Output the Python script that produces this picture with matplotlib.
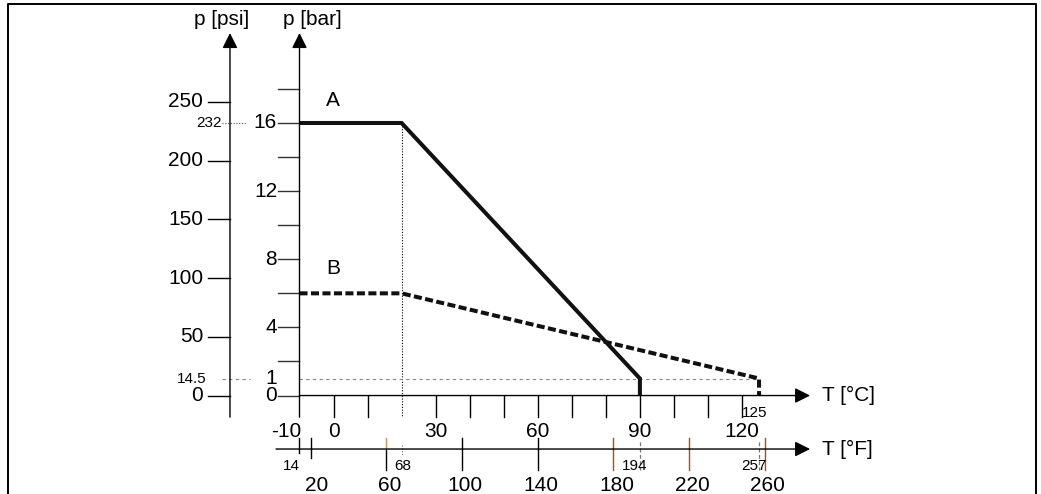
#!/usr/bin/env python3
"""
Pressure-temperature rating, curves A and B
p [bar] / p [psi] against T [°C] / T [°F]
"""

import matplotlib.pyplot as plt

plt.rcParams['font.family'] = ['Liberation Sans', 'DejaVu Sans']

# Curve data (°C, bar)
curve_a_t = [-10, 20, 90, 90]
curve_a_p = [16, 16, 1, 0]
curve_b_t = [-10, 20, 125, 125]
curve_b_p = [6, 6, 1, 0]

# Axis ticks
bar_ticks = [2, 4, 6, 8, 10, 12, 14, 16, 18]
bar_labels = [0, 4, 8, 12, 16]
psi_ticks = [0, 50, 100, 150, 200, 250]
c_ticks = [0, 10, 30, 40, 50, 60, 70, 80, 90, 100, 110, 120]
c_labels = [-10, 0, 30, 60, 90, 120]
f_ticks = [20, 60, 100, 140, 180, 220, 260]
f_brown = [180, 220, 260]
PSI_PER_BAR = 14.5

def f2c(f):
    return (f - 32) / 1.8

fig = plt.figure(figsize=(10.41, 4.94), dpi=100)
ax = fig.add_axes([0, 0, 1, 1])
ax.set_xlim(-97.98, 207.83)
ax.set_ylim(-5.78, 23.22)
ax.axis('off')

# frame (left, top, right)
ax.plot([-95.6, -95.6, 206.3, 206.3], [-5.78, 22.98, 22.98, -5.78],
        color='black', lw=1.4, clip_on=False)

k = 'black'
g = '#333333'
arrow = dict(arrowstyle='-|>', mutation_scale=23, lw=1.0, color=k,
             shrinkA=0, shrinkB=0)

# axes with arrows
psi_x = -30.42
f_y = -3.14
ax.annotate('', xy=(-10, 21.28), xytext=(-10, -1.27), arrowprops=arrow)
ax.annotate('', xy=(psi_x, 21.28), xytext=(psi_x, -1.27), arrowprops=arrow)
ax.annotate('', xy=(140, 0), xytext=(-10, 0), arrowprops=arrow)
ax.annotate('', xy=(140, f_y), xytext=(-16.9, f_y), arrowprops=arrow)

# bar axis ticks
for b in [0] + bar_ticks:
    ax.plot([-16.46, -10], [b, b], color=g, lw=1.0)
for b in bar_labels:
    ax.text(-16.6, b, str(b), ha='right', va='center', fontsize=15)
ax.text(-16.6, 1, '1', ha='right', va='center', fontsize=15)

# psi axis ticks
for p in psi_ticks:
    b = p / PSI_PER_BAR
    ax.plot([psi_x - 6.46, psi_x], [b, b], color=k, lw=1.0)
    ax.text(psi_x - 7.9, b, str(p), ha='right', va='center', fontsize=15)

# °C ticks
for t in c_ticks:
    ax.plot([t, t], [0, -1.27], color=k, lw=1.0)
for t in c_labels:
    if t == -10:
        ax.text(t + 0.5, -2.14, str(t), ha='right', va='center', fontsize=15)
    else:
        ax.text(t, -2.14, str(t), ha='center', va='center', fontsize=15)

# °F ticks
for f in f_ticks:
    c = f2c(f)
    col = '#8b5a2b' if f in f_brown else k
    lo = -3.67 if f == 20 else -4.37
    ax.plot([c, c], [f_y, lo], color=col, lw=1.0)
    top = '#f08a24' if f == 60 else col
    ax.plot([c, c], [-2.5, f_y], color=top, lw=1.0)
    dx = 1.8 if f == 20 else 0.9
    ax.text(c + dx, -5.26, str(f), ha='center', va='center', fontsize=15)
ax.plot([-10, -10], [-2.5, -3.38], color=k, lw=1.0)

# reference lines
ax.plot([20, 20], [16, -1.27], color=k, lw=0.8, ls=(0, (1, 1.5)))
ax.plot([20, 20], [-2.9, -3.5], color='#777777', lw=0.8, ls=(0, (1, 1.5)))
ax.plot([90, 90], [-2.7, -4.37], color='#777777', lw=0.9, ls=(0, (3, 2)))
ax.plot([125, 125], [-2.7, -4.37], color='#777777', lw=0.9, ls=(0, (3, 2)))
ax.plot([-32.8, -25.4], [16, 16], color='#555555', lw=0.8, ls=(0, (1, 1.5)))
ax.plot([-32.8, -24.5], [1, 1], color='#888888', lw=0.8, ls=(0, (3, 3)))
ax.plot([-10, 125], [1, 1], color='#888888', lw=0.8, ls=(0, (3, 3)))

# curves
ax.plot(curve_a_t, curve_a_p, color='#111111', lw=2.9,
        solid_joinstyle='miter', solid_capstyle='butt')
ax.plot(curve_b_t, curve_b_p, color='#111111', lw=2.9,
        ls=(0, (2.0, 0.85)), dash_joinstyle='miter')

# labels
ax.text(-0.2, 17.3, 'A', ha='center', va='center', fontsize=15)
ax.text(-0.2, 7.43, 'B', ha='center', va='center', fontsize=15)
ax.text(-32.8, 22.1, 'p [psi]', ha='center', va='center', fontsize=15)
ax.text(-6.3, 22.1, 'p [bar]', ha='center', va='center', fontsize=15)
ax.text(143.5, 0, 'T [°C]', ha='left', va='center', fontsize=15)
ax.text(143.5, f_y, 'T [°F]', ha='left', va='center', fontsize=15)

# small value labels
ax.text(-32.8, 16, '232', ha='right', va='center', fontsize=11)
ax.text(-37.2, 1, '14.5', ha='right', va='center', fontsize=11)
ax.text(120.1, -1.03, '125', ha='left', va='center', fontsize=11)
ax.text(-12.5, -4.14, '14', ha='center', va='center', fontsize=11)
ax.text(20.3, -4.14, '68', ha='center', va='center', fontsize=11)
ax.text(88.5, -4.14, '194', ha='center', va='center', fontsize=11)
ax.text(123.4, -4.14, '257', ha='center', va='center', fontsize=11)

plt.savefig('out.png', dpi=100)
plt.close()
